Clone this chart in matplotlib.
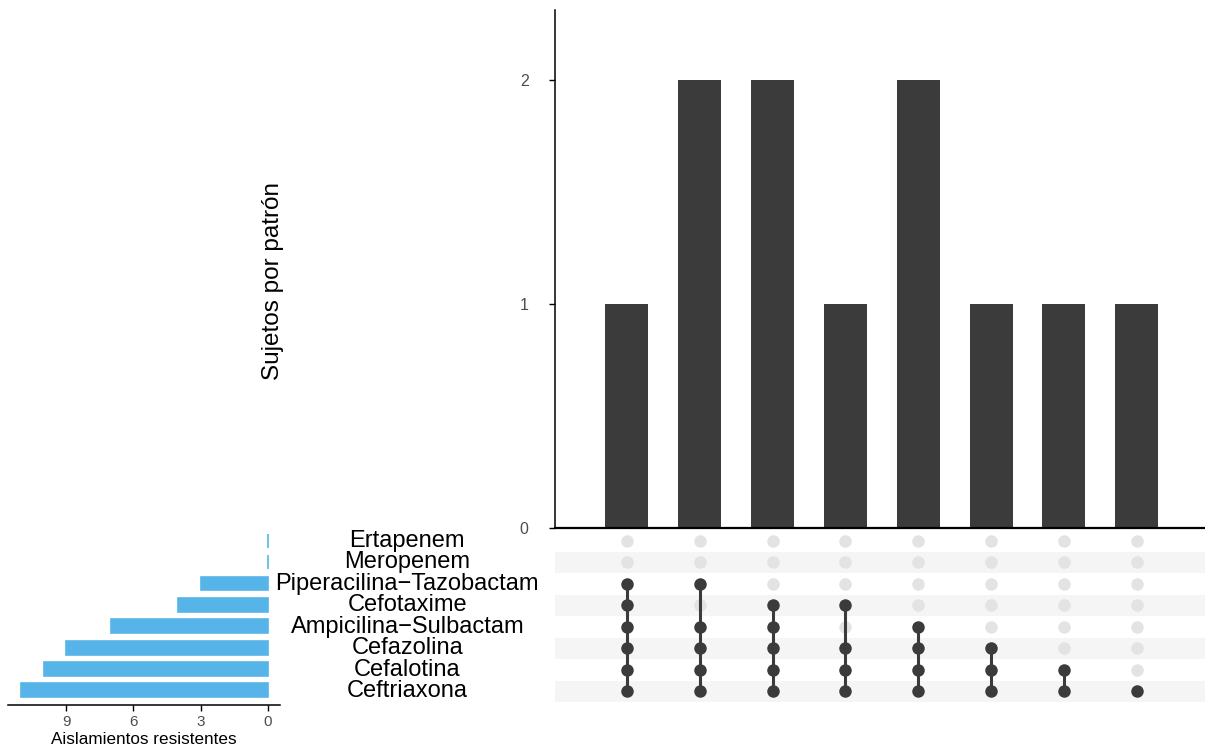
import matplotlib.pyplot as plt
import numpy as np

plt.rcParams['font.family'] = ['Liberation Sans', 'DejaVu Sans']

# sets, bottom row first
sets = ['Ceftriaxona', 'Cefalotina', 'Cefazolina', 'Ampicilina\u2212Sulbactam',
        'Cefotaxime', 'Piperacilina\u2212Tazobactam', 'Meropenem', 'Ertapenem']
set_sizes = [11, 10, 9, 7, 4, 3, 0, 0]

# intersection patterns (which sets each column contains) and counts
patterns = [
    ['Piperacilina\u2212Tazobactam', 'Cefotaxime', 'Ampicilina\u2212Sulbactam', 'Cefazolina', 'Cefalotina', 'Ceftriaxona'],
    ['Piperacilina\u2212Tazobactam', 'Ampicilina\u2212Sulbactam', 'Cefazolina', 'Cefalotina', 'Ceftriaxona'],
    ['Cefotaxime', 'Ampicilina\u2212Sulbactam', 'Cefazolina', 'Cefalotina', 'Ceftriaxona'],
    ['Cefotaxime', 'Cefazolina', 'Cefalotina', 'Ceftriaxona'],
    ['Ampicilina\u2212Sulbactam', 'Cefazolina', 'Cefalotina', 'Ceftriaxona'],
    ['Cefazolina', 'Cefalotina', 'Ceftriaxona'],
    ['Cefalotina', 'Ceftriaxona'],
    ['Ceftriaxona'],
]
counts = [1, 2, 2, 1, 2, 1, 1, 1]

dark = '#3b3b3b'
blue = '#56B4E9'

fig = plt.figure(figsize=(12.05, 7.48), dpi=100)

# ---- top: intersection sizes
ax_top = fig.add_axes([0.4606, 0.2941, 0.545, 0.6925])
xs = np.arange(1, len(counts) + 1)
ax_top.bar(xs, counts, width=0.59, color=dark)
ax_top.set_xlim(0.012, 9.03)
ax_top.set_ylim(0, 2.31)
ax_top.set_yticks([0, 1, 2])
ax_top.tick_params(axis='y', labelsize=11.5, labelcolor='#4d4d4d', length=4, width=1, pad=15)
ax_top.set_xticks([])
for s in ['top', 'right']:
    ax_top.spines[s].set_visible(False)
ax_top.spines['left'].set_linewidth(1.1)
ax_top.spines['bottom'].set_linewidth(1.6)
ax_top.set_ylabel('Sujetos por patrón', fontsize=17.5, labelpad=0)
ax_top.yaxis.set_label_coords(-0.412, 0.476)

# ---- matrix
ax_m = fig.add_axes([0.4606, 0.0615, 0.545, 0.2299])
ax_m.set_xlim(0.012, 9.03)
ax_m.set_ylim(-0.5, len(sets) - 0.5)
for i in range(len(sets)):
    if i % 2 == 0:
        ax_m.axhspan(i - 0.5, i + 0.5, color='#f5f5f5', lw=0, zorder=0)
for j, pat in enumerate(patterns):
    x = xs[j]
    ys_in = [sets.index(s) for s in pat]
    for i in range(len(sets)):
        if i not in ys_in:
            ax_m.plot(x, i, 'o', ms=9, color='#e3e3e3', mec='none', zorder=2)
    ax_m.plot([x, x], [min(ys_in), max(ys_in)], '-', lw=2.2, color=dark, zorder=3)
    ax_m.plot([x] * len(ys_in), ys_in, 'o', ms=9, color=dark, mec='none', zorder=4)
ax_m.axis('off')

# ---- left: set sizes
ax_l = fig.add_axes([0.0066, 0.0575, 0.2258, 0.2339])
ys = np.arange(len(sets))
ax_l.barh(ys, set_sizes, height=0.65, color=blue, edgecolor=blue, linewidth=1.2)
ax_l.set_xlim(11.6, -0.54)
ax_l.set_ylim(-0.68, len(sets) - 0.5)
ax_l.set_xticks([9, 6, 3, 0])
ax_l.tick_params(axis='x', labelsize=11, labelcolor='#4d4d4d', length=4, width=1)
ax_l.set_yticks([])
for s in ['top', 'right', 'left']:
    ax_l.spines[s].set_visible(False)
ax_l.spines['bottom'].set_linewidth(1.1)
ax_l.set_xlabel('Aislamientos resistentes', fontsize=12.3, labelpad=2)

# set names between the two panels
for i, name in enumerate(sets):
    yf = ax_m.transData.transform((0, i))[1]
    yf = fig.transFigure.inverted().transform((0, yf))[1]
    fig.text(0.338, yf, name, ha='center', va='center', fontsize=17)

fig.savefig('out.png', dpi=100)
